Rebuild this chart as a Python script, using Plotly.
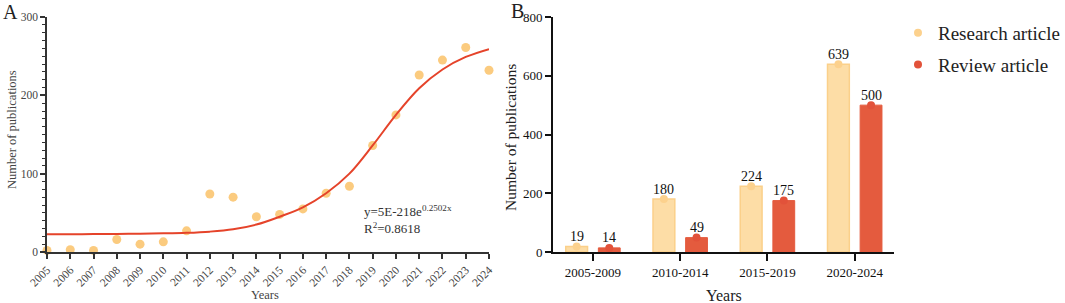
import plotly.graph_objects as go

# ---------------- Data ----------------
years = list(range(2005, 2025))
publications = [2, 3, 2, 16, 10, 13, 27, 74, 70, 45, 48, 55, 75, 84, 136, 175, 226, 245, 261, 232]
fit_values = [22.6, 22.7, 22.9, 23.1, 23.4, 23.8, 24.5, 26, 29, 35, 45, 57, 75, 100, 136, 175, 209, 233, 249, 259]

periods = ["2005-2009", "2010-2014", "2015-2019", "2020-2024"]
research = [19, 180, 224, 639]
review = [14, 49, 175, 500]

eq_line1 = "y=5E-218e<sup>0.2502x</sup>"
eq_line2 = "R<sup>2</sup>=0.8618"

SERIF = "Liberation Serif"
W, H = 1065, 303

def px_x(p):
    return p / W

def px_y(p):
    return 1 - p / H

fig = go.Figure()

# ---------------- Panel A ----------------
fig.add_trace(go.Scatter(
    x=years, y=publications, mode="markers",
    marker=dict(size=9, color="rgba(250,190,95,0.8)", line=dict(width=0)),
    cliponaxis=False, showlegend=False, xaxis="x", yaxis="y"))
fig.add_trace(go.Scatter(
    x=years, y=fit_values, mode="lines",
    line=dict(color="#E5432A", width=2, shape="spline", smoothing=1.0),
    showlegend=False, xaxis="x", yaxis="y"))

# ---------------- Panel B ----------------
idx = list(range(len(periods)))
bw = 0.25
half = 0.187
fig.add_trace(go.Bar(
    x=idx, y=research, width=bw, offset=-half - bw / 2,
    marker=dict(color="#FDDDA6", line=dict(color="#FBD08A", width=1.5)),
    showlegend=False, xaxis="x2", yaxis="y2"))
fig.add_trace(go.Bar(
    x=idx, y=review, width=bw, offset=half - bw / 2,
    marker=dict(color="#E45B3E", line=dict(color="#E45B3E", width=1)),
    showlegend=False, xaxis="x2", yaxis="y2"))
fig.add_trace(go.Scatter(
    x=[i - half for i in idx], y=research, mode="markers",
    marker=dict(size=8, color="#FCD18D"), cliponaxis=False,
    name="Research article", legendgroup="a", xaxis="x2", yaxis="y2"))
fig.add_trace(go.Scatter(
    x=[i + half for i in idx], y=review, mode="markers",
    marker=dict(size=8, color="#E2523A"), cliponaxis=False,
    name="Review article", legendgroup="b", xaxis="x2", yaxis="y2"))

for vals, sgn in ((research, -1), (review, 1)):
    for i, v in zip(idx, vals):
        fig.add_annotation(
            x=i + sgn * half, y=v, xref="x2", yref="y2", text=str(v),
            showarrow=False, yshift=10, xanchor="center", yanchor="middle",
            font=dict(family=SERIF, size=14, color="#111"))

yd = [px_y(252), px_y(17)]

fig.update_layout(
    width=W, height=H,
    margin=dict(l=0, r=0, t=0, b=0, autoexpand=False),
    paper_bgcolor="white", plot_bgcolor="white",
    font=dict(family=SERIF, color="#222"),
    barmode="overlay",
    xaxis=dict(
        domain=[px_x(47), px_x(489)], range=[2005, 2024],
        tickmode="array", tickvals=years, ticktext=[str(y) for y in years],
        tickangle=-45, tickfont=dict(size=11.5, color="#444"),
        ticks="outside", ticklen=5, tickwidth=1.5, tickcolor="#333",
        showline=True, linecolor="#333", linewidth=1.5, automargin=False,
        showgrid=False, zeroline=False, anchor="y"),
    yaxis=dict(
        domain=yd, range=[0, 300],
        tickmode="array", tickvals=[0, 100, 200, 300],
        tickfont=dict(size=11.5, color="#444"),
        ticks="outside", ticklen=5, tickwidth=1.5, tickcolor="#333",
        minor=dict(dtick=10, ticks="outside", ticklen=3, tickwidth=1, tickcolor="#333", showgrid=False),
        showline=True, linecolor="#333", linewidth=1.5, automargin=False,
        showgrid=False, zeroline=False, anchor="x"),
    xaxis2=dict(
        domain=[px_x(553), px_x(894)], range=[-0.458, 3.45],
        tickmode="array", tickvals=idx, ticktext=periods,
        tickfont=dict(size=13, color="#111"),
        ticks="outside", ticklen=7, tickwidth=2, tickcolor="#111",
        showline=True, linecolor="#111", linewidth=2, automargin=False,
        showgrid=False, zeroline=False, anchor="y2"),
    yaxis2=dict(
        domain=yd, range=[0, 800],
        tickmode="array", tickvals=[0, 200, 400, 600, 800],
        tickfont=dict(size=13, color="#111"),
        ticks="outside", ticklen=6, tickwidth=2, tickcolor="#111",
        showline=True, linecolor="#111", linewidth=2, automargin=False,
        showgrid=False, zeroline=False, anchor="x2"),
    legend=dict(
        x=px_x(898), y=px_y(14), xanchor="left", yanchor="top",
        font=dict(family=SERIF, size=19, color="#222"),
        traceorder="grouped", tracegroupgap=4, itemwidth=30,
        bgcolor="rgba(0,0,0,0)"),
)

ann = [
    dict(text="A", x=px_x(10), y=px_y(12), size=20),
    dict(text="B", x=px_x(517), y=px_y(11), size=20),
    dict(text="Number of publications", x=px_x(12), y=px_y(130), size=12.5, angle=-90, color="#444"),
    dict(text="Years", x=px_x(265), y=px_y(295), size=12.5, color="#444"),
    dict(text="Number of publications", x=px_x(510), y=px_y(137), size=15.5, angle=-90),
    dict(text="Years", x=px_x(724), y=px_y(295), size=16),
]
for a in ann:
    fig.add_annotation(
        text=a["text"], x=a["x"], y=a["y"], xref="paper", yref="paper",
        xanchor="center", yanchor="middle", showarrow=False,
        textangle=a.get("angle", 0),
        font=dict(family=SERIF, size=a["size"], color=a.get("color", "#222")))

fig.add_annotation(text=eq_line1, x=px_x(362), y=px_y(211), xref="paper", yref="paper",
                   xanchor="left", yanchor="middle", showarrow=False,
                   font=dict(family=SERIF, size=13, color="#333"))
fig.add_annotation(text=eq_line2, x=px_x(362), y=px_y(228), xref="paper", yref="paper",
                   xanchor="left", yanchor="middle", showarrow=False,
                   font=dict(family=SERIF, size=13, color="#333"))

fig.write_html("out.html", config={"displayModeBar": False},
               post_script="document.body.style.margin='0';document.body.style.overflow='hidden';")
